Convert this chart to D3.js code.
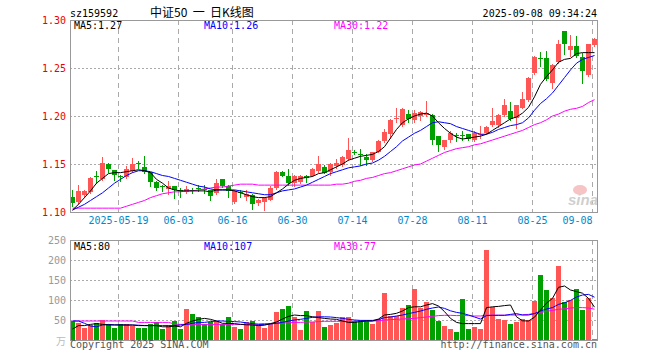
<!DOCTYPE html>
<html><head><meta charset="utf-8">
<script src="https://cdn.jsdelivr.net/npm/d3@7"></script>
<style>
body{margin:0;background:#fff}
svg{display:block}
text{font-family:"DejaVu Sans Mono",monospace;font-size:10px}
</style>
</head><body>
<svg id="c" width="660" height="360"></svg>
<script>
const dates=["2025-05-07","2025-05-08","2025-05-09","2025-05-12","2025-05-13","2025-05-14","2025-05-15","2025-05-16","2025-05-19","2025-05-20","2025-05-21","2025-05-22","2025-05-23","2025-05-26","2025-05-27","2025-05-28","2025-05-29","2025-05-30","2025-06-03","2025-06-04","2025-06-05","2025-06-06","2025-06-09","2025-06-10","2025-06-11","2025-06-12","2025-06-13","2025-06-16","2025-06-17","2025-06-18","2025-06-19","2025-06-20","2025-06-23","2025-06-24","2025-06-25","2025-06-26","2025-06-27","2025-06-30","2025-07-01","2025-07-02","2025-07-03","2025-07-04","2025-07-07","2025-07-08","2025-07-09","2025-07-10","2025-07-11","2025-07-14","2025-07-15","2025-07-16","2025-07-17","2025-07-18","2025-07-21","2025-07-22","2025-07-23","2025-07-24","2025-07-25","2025-07-28","2025-07-29","2025-07-30","2025-07-31","2025-08-01","2025-08-04","2025-08-05","2025-08-06","2025-08-07","2025-08-08","2025-08-11","2025-08-12","2025-08-13","2025-08-14","2025-08-15","2025-08-18","2025-08-19","2025-08-20","2025-08-21","2025-08-22","2025-08-25","2025-08-26","2025-08-27","2025-08-28","2025-08-29","2025-09-01","2025-09-02","2025-09-03","2025-09-04","2025-09-05","2025-09-08"];
const open=[1.116,1.110,1.118,1.121,1.138,1.134,1.150,1.144,1.138,1.136,1.143,1.151,1.147,1.142,1.131,1.127,1.124,1.127,1.123,1.121,1.123,1.125,1.124,1.123,1.120,1.134,1.127,1.110,1.121,1.116,1.118,1.109,1.110,1.113,1.125,1.142,1.138,1.130,1.131,1.138,1.138,1.143,1.147,1.142,1.148,1.149,1.155,1.163,1.160,1.157,1.154,1.163,1.174,1.181,1.197,1.191,1.202,1.196,1.200,1.201,1.201,1.179,1.168,1.175,1.180,1.180,1.181,1.175,1.180,1.182,1.191,1.191,1.201,1.205,1.198,1.208,1.217,1.245,1.260,1.260,1.234,1.256,1.289,1.269,1.273,1.261,1.243,1.274];
const high=[1.123,1.128,1.123,1.136,1.143,1.157,1.151,1.144,1.139,1.148,1.156,1.153,1.158,1.142,1.132,1.128,1.132,1.127,1.125,1.127,1.125,1.128,1.128,1.123,1.134,1.134,1.128,1.123,1.123,1.123,1.119,1.114,1.116,1.127,1.143,1.143,1.145,1.139,1.139,1.139,1.146,1.158,1.149,1.151,1.155,1.158,1.177,1.165,1.166,1.160,1.163,1.175,1.186,1.197,1.208,1.208,1.206,1.206,1.205,1.216,1.202,1.179,1.175,1.184,1.182,1.184,1.181,1.184,1.190,1.190,1.208,1.202,1.218,1.215,1.211,1.225,1.241,1.262,1.267,1.268,1.254,1.279,1.289,1.284,1.283,1.266,1.275,1.281];
const low=[1.106,1.108,1.116,1.120,1.130,1.133,1.142,1.133,1.132,1.135,1.142,1.146,1.141,1.127,1.123,1.122,1.119,1.115,1.116,1.120,1.120,1.122,1.120,1.112,1.119,1.126,1.116,1.109,1.116,1.113,1.103,1.107,1.102,1.112,1.124,1.137,1.128,1.127,1.130,1.131,1.137,1.142,1.141,1.139,1.146,1.148,1.154,1.160,1.149,1.149,1.153,1.162,1.173,1.177,1.194,1.190,1.194,1.194,1.196,1.200,1.171,1.164,1.166,1.173,1.174,1.175,1.175,1.174,1.177,1.182,1.190,1.189,1.200,1.196,1.188,1.208,1.216,1.244,1.252,1.238,1.229,1.255,1.265,1.262,1.261,1.234,1.242,1.273];
const close=[1.109,1.122,1.122,1.135,1.136,1.151,1.145,1.139,1.137,1.145,1.150,1.150,1.142,1.131,1.125,1.126,1.127,1.123,1.122,1.124,1.122,1.124,1.123,1.117,1.130,1.127,1.122,1.122,1.120,1.119,1.108,1.112,1.115,1.125,1.142,1.138,1.130,1.137,1.138,1.135,1.145,1.150,1.141,1.150,1.151,1.157,1.165,1.162,1.159,1.154,1.163,1.174,1.183,1.196,1.198,1.207,1.197,1.203,1.204,1.203,1.175,1.170,1.175,1.182,1.179,1.179,1.176,1.182,1.181,1.189,1.195,1.201,1.211,1.197,1.211,1.218,1.240,1.261,1.259,1.239,1.253,1.275,1.275,1.273,1.262,1.247,1.275,1.280];
const ma5=[1.102,1.108,1.115,1.122,1.130,1.135,1.140,1.141,1.141,1.142,1.143,1.144,1.143,1.141,1.134,1.130,1.125,1.123,1.122,1.122,1.122,1.122,1.122,1.121,1.123,1.123,1.123,1.122,1.120,1.118,1.116,1.115,1.115,1.116,1.120,1.124,1.129,1.133,1.135,1.136,1.137,1.140,1.141,1.144,1.147,1.150,1.154,1.156,1.158,1.159,1.160,1.163,1.168,1.177,1.186,1.193,1.197,1.200,1.202,1.203,1.200,1.193,1.187,1.182,1.178,1.176,1.177,1.178,1.179,1.181,1.185,1.189,1.193,1.197,1.199,1.203,1.209,1.220,1.233,1.241,1.248,1.256,1.259,1.260,1.265,1.266,1.266,1.266];
const ma10=[1.102,1.105,1.108,1.112,1.116,1.120,1.125,1.130,1.134,1.138,1.141,1.143,1.143,1.142,1.140,1.138,1.137,1.135,1.133,1.131,1.129,1.127,1.126,1.124,1.123,1.123,1.123,1.123,1.122,1.121,1.120,1.119,1.118,1.118,1.120,1.122,1.123,1.124,1.126,1.128,1.131,1.134,1.137,1.140,1.142,1.144,1.146,1.147,1.148,1.150,1.151,1.154,1.158,1.163,1.168,1.174,1.178,1.182,1.185,1.189,1.193,1.194,1.193,1.192,1.189,1.187,1.185,1.183,1.181,1.181,1.183,1.186,1.188,1.190,1.191,1.193,1.198,1.206,1.213,1.218,1.224,1.232,1.240,1.248,1.255,1.259,1.261,1.263];
const ma30=[1.104,1.104,1.104,1.104,1.104,1.104,1.104,1.104,1.104,1.106,1.108,1.110,1.112,1.115,1.117,1.119,1.120,1.121,1.121,1.122,1.122,1.123,1.124,1.125,1.126,1.126,1.127,1.128,1.129,1.129,1.129,1.128,1.128,1.128,1.128,1.128,1.128,1.128,1.128,1.128,1.128,1.128,1.128,1.128,1.129,1.129,1.130,1.132,1.133,1.135,1.136,1.138,1.140,1.141,1.143,1.145,1.147,1.149,1.150,1.153,1.156,1.159,1.162,1.164,1.166,1.167,1.168,1.170,1.171,1.173,1.175,1.177,1.179,1.181,1.183,1.185,1.188,1.191,1.193,1.196,1.200,1.202,1.205,1.207,1.208,1.210,1.214,1.217];
const volume=[47.5,41.7,31,37.5,41.7,50,39,31,39,39,36,31,31,39,44,28,37.5,47.5,28,77.5,65,57.5,39,44,47.5,39,57.5,32.5,27.5,44,47.5,37.5,30,39,70,77.5,85,57.5,25,72.5,44,72.5,32.5,37.5,42.5,57.5,57.5,47.5,50,50,40,52.5,117.5,60,60,80,87.5,127.5,80,95,75,47.5,36,27.5,20,102.5,27.5,32.5,27.5,225,82.5,52.5,50,40,45,52.5,50,97.5,162.5,125,105,185,95,100,127.5,75,105,2.5];
const vma5=[27.5,36,36,39,41,39,37.5,37.5,37.5,37.5,37.5,36,36,36,36,33,33,35,33,41.7,47.5,51.7,54,51.7,47.5,41.7,41.7,41,39,38,37.5,36,37,41,45,52.5,59,62.5,61,61,58,56,54,52.5,51.7,47.5,44,44,46,47.5,47.5,52.5,62.5,64,66.7,72.5,81,83,83,87.5,91,85,71,54,44,41,41,41,41,81,83,84,86,87.5,58,48,47.5,57,75,92,104,131.7,135,125,121,117,104,82];
const vma10=[47.5,47.5,41.7,35,33,37.5,39,38,38,37.5,37.5,37,36,36,36,36,36,36,37.5,39,41.7,44,44,46,47.5,47.5,46.7,46,45,43,41,39,39,40,41.7,44,47.5,50,51.7,54,56.7,58,58,57.5,56,54,51.7,50,49,49,49,51,56,57.5,60,62.5,66,69,72.5,76.7,80,82.5,79,73,69,66.7,62.5,57.5,52.5,61,61.7,61.7,61.7,64,66,62.5,62.5,66,72.5,77.5,81,89,93,99,107.5,112.5,114,107];
const vma30=[47.5,47.5,47.5,47.5,47.5,47.5,47.5,47.5,47.5,47.5,47.5,44,44,44,44,44,44,40,39,39,39,39,39,39,39,39,39,39,39,39,39,40,41,41,41.7,42.5,43,44,44,45,45,46,46.7,46.7,46.7,46.7,46.7,46.7,47.5,47.5,47.5,48,50,51,51.7,52.5,53.3,54,56,57.5,59,61,61.7,61.7,61,61,61,60,60,62,62,62,62,62.5,62.5,63,64,66.7,69,71.7,74,76.7,78,80,81,81,80,77];
const priceTicks=[1.10,1.15,1.20,1.25,1.30];
const volTicks=[50,100,150,200,250];
const tickDates=["2025-05-19","2025-06-03","2025-06-16","2025-06-30","2025-07-14","2025-07-28","2025-08-11","2025-08-25","2025-09-08"];
const tickLabels=["2025-05-19","06-03","06-16","06-30","07-14","07-28","08-11","08-25","09-08"];

const svg=d3.select("#c");
const L=70, R=597, PT=20, PB=212, VT=240, VB=340;
const x=d3.scaleBand().domain(dates).range([69.5,597.5]);
const xc=d=>x(d)+3;
const y=d3.scaleLinear().domain([1.10,1.30]).range([PB,PT]);
const yv=d3.scaleLinear().domain([0,250]).range([VB,VT]);
const RED="#ff5555", GREEN="#00a000";

// gridlines
const g=svg.append("g");
g.selectAll(".hp").data(priceTicks.filter(t=>t>1.11&&t<1.29)).join("line")
 .attr("x1",L).attr("x2",R).attr("y1",d=>Math.round(y(d))+0.5).attr("y2",d=>Math.round(y(d))+0.5)
 .attr("stroke","#aaa").attr("stroke-dasharray","2,2");
g.selectAll(".hv").data(volTicks.filter(t=>t<250)).join("line")
 .attr("x1",L).attr("x2",R).attr("y1",d=>Math.round(yv(d))+0.5).attr("y2",d=>Math.round(yv(d))+0.5)
 .attr("stroke","#aaa").attr("stroke-dasharray","2,2");
[[PT,PB],[VT,VB]].forEach(([a,b])=>{
 g.selectAll(null).data(tickDates).join("line")
  .attr("x1",d=>x(d)+1).attr("x2",d=>x(d)+1).attr("y1",a).attr("y2",b)
  .attr("stroke","#aaa").attr("stroke-dasharray","5,4");
});

// candles
const idx=d3.range(dates.length);
const cg=svg.append("g");
cg.selectAll("line").data(idx).join("line")
 .attr("x1",i=>xc(dates[i])).attr("x2",i=>xc(dates[i]))
 .attr("y1",i=>Math.round(y(high[i]))).attr("y2",i=>Math.round(y(low[i]))+1)
 .attr("stroke",i=>close[i]>=open[i]?RED:GREEN);
cg.selectAll("rect").data(idx).join("rect")
 .attr("x",i=>x(dates[i])+0.5).attr("width",5)
 .attr("y",i=>Math.round(y(Math.max(open[i],close[i]))))
 .attr("height",i=>Math.max(1,Math.round(y(Math.min(open[i],close[i])))-Math.round(y(Math.max(open[i],close[i])))))
 .attr("fill",i=>close[i]>=open[i]?RED:GREEN);

// volume bars
svg.append("g").selectAll("rect").data(idx).join("rect")
 .attr("x",i=>x(dates[i])+0.5).attr("width",5)
 .attr("y",i=>Math.round(yv(volume[i])))
 .attr("height",i=>VB-Math.round(yv(volume[i])))
 .attr("fill",i=>close[i]>=open[i]?RED:GREEN);

// MA lines
const lp=d3.line().x((v,i)=>xc(dates[i])).y(v=>y(v));
const lv=d3.line().x((v,i)=>xc(dates[i])).y(v=>yv(v));
[[ma30,"#ff00ff"],[ma10,"#0000ff"],[ma5,"#000"]].forEach(([a,c])=>
 svg.append("path").attr("d",lp(a)).attr("fill","none").attr("stroke",c).attr("stroke-width",1));
[[vma30,"#ff00ff"],[vma10,"#0000ff"],[vma5,"#000"]].forEach(([a,c])=>
 svg.append("path").attr("d",lv(a)).attr("fill","none").attr("stroke",c).attr("stroke-width",1));

// watermark
svg.append("ellipse").attr("cx",580).attr("cy",190).attr("rx",7).attr("ry",5).attr("fill","#f6c4c4");
svg.append("text").attr("x",598).attr("y",205).attr("text-anchor","end")
 .style("font-family","Liberation Sans").style("font-size","15px").style("font-style","italic").style("font-weight","bold")
 .attr("fill","#cfcfcf").text("sina");

// frames
[[PT,PB],[VT,VB]].forEach(([a,b])=>svg.append("rect").attr("x",L+0.5).attr("y",a+0.5).attr("width",R-L).attr("height",b-a)
 .attr("fill","none").attr("stroke","#999"));

// axis labels
svg.selectAll(".pl").data(priceTicks).join("text").attr("x",66).attr("y",d=>y(d)+4)
 .attr("text-anchor","end").attr("fill","#ee0000").text(d=>d.toFixed(2));
svg.selectAll(".vl").data(volTicks).join("text").attr("x",66).attr("y",d=>yv(d)+4)
 .attr("text-anchor","end").attr("fill","#999").text(d=>d);
svg.append("text").attr("x",66).attr("y",345).attr("text-anchor","end").attr("fill","#bbb")
 .style("font-family","Noto Sans CJK SC").text("万");
svg.selectAll(".dl").data(tickDates).join("text")
 .attr("x",(d,i)=>{const c=x(d)+1;return i===tickDates.length-1?c:c;})
 .attr("text-anchor",(d,i)=>i===tickDates.length-1?"end":"middle")
 .attr("y",224).attr("fill","#0088cc").text((d,i)=>tickLabels[i]);

// header
svg.append("text").attr("x",70).attr("y",17).text("sz159592");
svg.append("text").attr("x",150).attr("y",17).style("font-family","Noto Sans CJK SC").style("font-size","12px")
 .attr("xml:space","preserve").text("中证50  一  日K线图");
svg.append("text").attr("x",597).attr("y",17).attr("text-anchor","end").text("2025-09-08 09:34:24");

// MA legends
const leg=[["MA5:1.27","#000"],["MA10:1.26","#0000ff"],["MA30:1.22","#ff00ff"]];
svg.selectAll(".lg").data(leg).join("text").attr("x",(d,i)=>74+130*i).attr("y",29).attr("fill",d=>d[1]).text(d=>d[0]);
const vleg=[["MA5:80","#000"],["MA10:107","#0000ff"],["MA30:77","#ff00ff"]];
svg.selectAll(".vlg").data(vleg).join("text").attr("x",(d,i)=>74+130*i).attr("y",250).attr("fill",d=>d[1]).text(d=>d[0]);

// footer
svg.append("text").attr("x",70).attr("y",348).attr("fill","#555").text("Copyright 2025 SINA.COM");
svg.append("text").attr("x",597).attr("y",348).attr("text-anchor","end").attr("fill","#555").text("http://finance.sina.com.cn");
</script>
</body></html>
